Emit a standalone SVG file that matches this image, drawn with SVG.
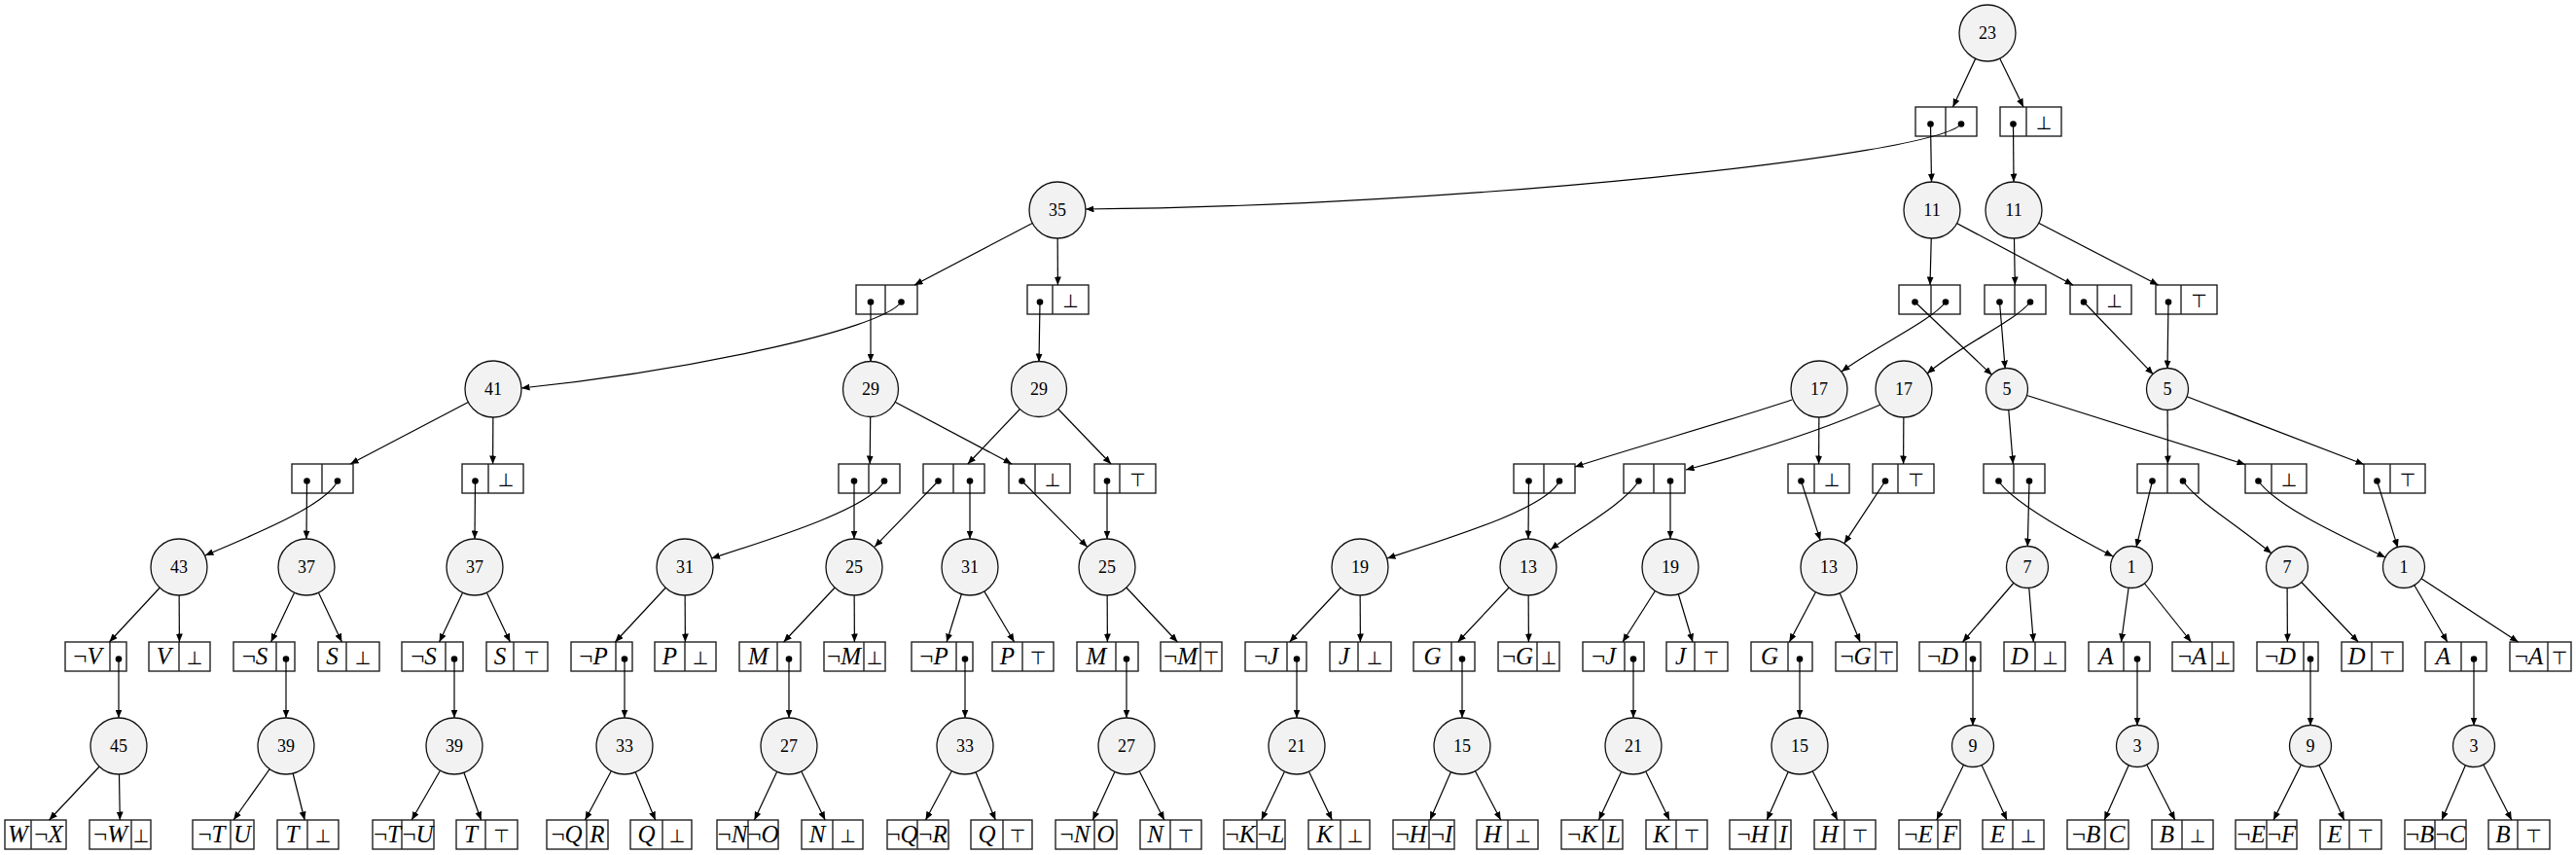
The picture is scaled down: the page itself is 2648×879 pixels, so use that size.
<svg xmlns="http://www.w3.org/2000/svg" width="2648" height="879" viewBox="0 0 2648 879">
<defs>
<style>
.rec rect{fill:#fff;stroke:#222;stroke-width:1.4}
.rec line{stroke:#222;stroke-width:1.4}
.lit{font-family:"Liberation Serif","DejaVu Serif",serif;font-size:25px;font-style:italic;text-anchor:middle;fill:#000}
.neg{font-style:normal}
.sym{font-family:"DejaVu Sans",sans-serif;font-size:19px;text-anchor:middle;fill:#000}
.dot{fill:#000}
.num circle{fill:#f2f2f2;stroke:#111;stroke-width:1.3}
.num text{font-family:"Liberation Serif","DejaVu Serif",serif;font-size:18px;text-anchor:middle;fill:#000}
#edges path{fill:none;stroke:#000;stroke-width:1.2;marker-end:url(#ah)}
</style>
<marker id="ah" markerUnits="userSpaceOnUse" markerWidth="9" markerHeight="7" refX="8.5" refY="3.5" orient="auto"><path d="M0,0 L8.5,3.5 L0,7 z" fill="#000"/></marker>
</defs>
<rect width="2648" height="879" fill="#fff"/>

<!-- record nodes -->
<g id="r1a" class="rec"><rect x="1969" y="110" width="63" height="30"/><line x1="2000" y1="110" x2="2000" y2="140"/><circle class="dot" cx="1984.5" cy="127.5" r="3.3"/><circle class="dot" cx="2016" cy="127.5" r="3.3"/></g>
<g id="r1b" class="rec"><rect x="2056" y="110" width="63" height="30"/><line x1="2083" y1="110" x2="2083" y2="140"/><circle class="dot" cx="2069.5" cy="127.5" r="3.3"/><text class="sym" x="2101" y="133">⊥</text></g>

<g id="r3a" class="rec"><rect x="880" y="293" width="63" height="30"/><line x1="910" y1="293" x2="910" y2="323"/><circle class="dot" cx="895" cy="310.5" r="3.3"/><circle class="dot" cx="926.5" cy="310.5" r="3.3"/></g>
<g id="r3b" class="rec"><rect x="1056" y="293" width="63" height="30"/><line x1="1082" y1="293" x2="1082" y2="323"/><circle class="dot" cx="1069" cy="310.5" r="3.3"/><text class="sym" x="1100.5" y="316">⊥</text></g>
<g id="r3c" class="rec"><rect x="1952" y="293" width="63" height="30"/><line x1="1985" y1="293" x2="1985" y2="323"/><circle class="dot" cx="1968.5" cy="310.5" r="3.3"/><circle class="dot" cx="2000" cy="310.5" r="3.3"/></g>
<g id="r3d" class="rec"><rect x="2040" y="293" width="63" height="30"/><line x1="2071" y1="293" x2="2071" y2="323"/><circle class="dot" cx="2055.5" cy="310.5" r="3.3"/><circle class="dot" cx="2087" cy="310.5" r="3.3"/></g>
<g id="r3e" class="rec"><rect x="2128" y="293" width="63" height="30"/><line x1="2156" y1="293" x2="2156" y2="323"/><circle class="dot" cx="2142" cy="310.5" r="3.3"/><text class="sym" x="2173.5" y="316">⊥</text></g>
<g id="r3f" class="rec"><rect x="2216" y="293" width="63" height="30"/><line x1="2242" y1="293" x2="2242" y2="323"/><circle class="dot" cx="2229" cy="310.5" r="3.3"/><text class="sym" x="2260.5" y="316">⊤</text></g>

<g id="r5a" class="rec"><rect x="300" y="477" width="63" height="30"/><line x1="331" y1="477" x2="331" y2="507"/><circle class="dot" cx="315.5" cy="494.5" r="3.3"/><circle class="dot" cx="347" cy="494.5" r="3.3"/></g>
<g id="r5b" class="rec"><rect x="475" y="477" width="63" height="30"/><line x1="502" y1="477" x2="502" y2="507"/><circle class="dot" cx="488.5" cy="494.5" r="3.3"/><text class="sym" x="520" y="500">⊥</text></g>
<g id="r5c" class="rec"><rect x="862" y="477" width="63" height="30"/><line x1="893" y1="477" x2="893" y2="507"/><circle class="dot" cx="878" cy="494.5" r="3.3"/><circle class="dot" cx="909" cy="494.5" r="3.3"/></g>
<g id="r5d" class="rec"><rect x="949" y="477" width="63" height="30"/><line x1="980" y1="477" x2="980" y2="507"/><circle class="dot" cx="964.5" cy="494.5" r="3.3"/><circle class="dot" cx="997" cy="494.5" r="3.3"/></g>
<g id="r5e" class="rec"><rect x="1037" y="477" width="63" height="30"/><line x1="1064" y1="477" x2="1064" y2="507"/><circle class="dot" cx="1050.5" cy="494.5" r="3.3"/><text class="sym" x="1082" y="500">⊥</text></g>
<g id="r5f" class="rec"><rect x="1125" y="477" width="63" height="30"/><line x1="1151" y1="477" x2="1151" y2="507"/><circle class="dot" cx="1138" cy="494.5" r="3.3"/><text class="sym" x="1169.5" y="500">⊤</text></g>
<g id="r5g" class="rec"><rect x="1556" y="477" width="63" height="30"/><line x1="1587" y1="477" x2="1587" y2="507"/><circle class="dot" cx="1571.5" cy="494.5" r="3.3"/><circle class="dot" cx="1603" cy="494.5" r="3.3"/></g>
<g id="r5h" class="rec"><rect x="1669" y="477" width="63" height="30"/><line x1="1700" y1="477" x2="1700" y2="507"/><circle class="dot" cx="1684.5" cy="494.5" r="3.3"/><circle class="dot" cx="1717" cy="494.5" r="3.3"/></g>
<g id="r5i" class="rec"><rect x="1838" y="477" width="63" height="30"/><line x1="1865" y1="477" x2="1865" y2="507"/><circle class="dot" cx="1851.5" cy="494.5" r="3.3"/><text class="sym" x="1883" y="500">⊥</text></g>
<g id="r5j" class="rec"><rect x="1925" y="477" width="63" height="30"/><line x1="1951" y1="477" x2="1951" y2="507"/><circle class="dot" cx="1938" cy="494.5" r="3.3"/><text class="sym" x="1969.5" y="500">⊤</text></g>
<g id="r5k" class="rec"><rect x="2039" y="477" width="63" height="30"/><line x1="2070" y1="477" x2="2070" y2="507"/><circle class="dot" cx="2054.5" cy="494.5" r="3.3"/><circle class="dot" cx="2086" cy="494.5" r="3.3"/></g>
<g id="r5l" class="rec"><rect x="2197" y="477" width="63" height="30"/><line x1="2228" y1="477" x2="2228" y2="507"/><circle class="dot" cx="2212.5" cy="494.5" r="3.3"/><circle class="dot" cx="2244" cy="494.5" r="3.3"/></g>
<g id="r5m" class="rec"><rect x="2308" y="477" width="63" height="30"/><line x1="2335" y1="477" x2="2335" y2="507"/><circle class="dot" cx="2321.5" cy="494.5" r="3.3"/><text class="sym" x="2353" y="500">⊥</text></g>
<g id="r5n" class="rec"><rect x="2430" y="477" width="63" height="30"/><line x1="2457" y1="477" x2="2457" y2="507"/><circle class="dot" cx="2443.5" cy="494.5" r="3.3"/><text class="sym" x="2475" y="500">⊤</text></g>

<g id="r7_1" class="rec"><rect x="67" y="660" width="63" height="30"/><line x1="113" y1="660" x2="113" y2="690"/><text class="lit" x="90" y="683"><tspan class="neg">¬</tspan>V</text><circle class="dot" cx="122" cy="677.5" r="3.3"/></g>
<g id="r7_2" class="rec"><rect x="153" y="660" width="63" height="30"/><line x1="184" y1="660" x2="184" y2="690"/><text class="lit" x="168.5" y="683">V</text><text class="sym" x="200" y="683">⊥</text></g>
<g id="r7_3" class="rec"><rect x="240" y="660" width="63" height="30"/><line x1="284" y1="660" x2="284" y2="690"/><text class="lit" x="262" y="683"><tspan class="neg">¬</tspan>S</text><circle class="dot" cx="294" cy="677.5" r="3.3"/></g>
<g id="r7_4" class="rec"><rect x="327" y="660" width="63" height="30"/><line x1="356" y1="660" x2="356" y2="690"/><text class="lit" x="341.5" y="683">S</text><text class="sym" x="373" y="683">⊥</text></g>
<g id="r7_5" class="rec"><rect x="413" y="660" width="63" height="30"/><line x1="458" y1="660" x2="458" y2="690"/><text class="lit" x="435.5" y="683"><tspan class="neg">¬</tspan>S</text><circle class="dot" cx="467" cy="677.5" r="3.3"/></g>
<g id="r7_6" class="rec"><rect x="500" y="660" width="63" height="30"/><line x1="528" y1="660" x2="528" y2="690"/><text class="lit" x="514" y="683">S</text><text class="sym" x="546.5" y="683">⊤</text></g>
<g id="r7_7" class="rec"><rect x="587" y="660" width="63" height="30"/><line x1="633" y1="660" x2="633" y2="690"/><text class="lit" x="610" y="683"><tspan class="neg">¬</tspan>P</text><circle class="dot" cx="642" cy="677.5" r="3.3"/></g>
<g id="r7_8" class="rec"><rect x="673" y="660" width="63" height="30"/><line x1="704" y1="660" x2="704" y2="690"/><text class="lit" x="688.5" y="683">P</text><text class="sym" x="720" y="683">⊥</text></g>
<g id="r7_9" class="rec"><rect x="760" y="660" width="63" height="30"/><line x1="799" y1="660" x2="799" y2="690"/><text class="lit" x="779.5" y="683">M</text><circle class="dot" cx="811" cy="677.5" r="3.3"/></g>
<g id="r7_10" class="rec"><rect x="847" y="660" width="63" height="30"/><line x1="888" y1="660" x2="888" y2="690"/><text class="lit" x="867.5" y="683"><tspan class="neg">¬</tspan>M</text><text class="sym" x="899" y="683">⊥</text></g>
<g id="r7_11" class="rec"><rect x="937" y="660" width="63" height="30"/><line x1="983" y1="660" x2="983" y2="690"/><text class="lit" x="960" y="683"><tspan class="neg">¬</tspan>P</text><circle class="dot" cx="992" cy="677.5" r="3.3"/></g>
<g id="r7_12" class="rec"><rect x="1020" y="660" width="63" height="30"/><line x1="1051" y1="660" x2="1051" y2="690"/><text class="lit" x="1035.5" y="683">P</text><text class="sym" x="1067" y="683">⊤</text></g>
<g id="r7_13" class="rec"><rect x="1107" y="660" width="63" height="30"/><line x1="1147" y1="660" x2="1147" y2="690"/><text class="lit" x="1127" y="683">M</text><circle class="dot" cx="1158" cy="677.5" r="3.3"/></g>
<g id="r7_14" class="rec"><rect x="1193" y="660" width="63" height="30"/><line x1="1234" y1="660" x2="1234" y2="690"/><text class="lit" x="1213.5" y="683"><tspan class="neg">¬</tspan>M</text><text class="sym" x="1245" y="683">⊤</text></g>
<g id="r7_15" class="rec"><rect x="1280" y="660" width="63" height="30"/><line x1="1323" y1="660" x2="1323" y2="690"/><text class="lit" x="1301.5" y="683"><tspan class="neg">¬</tspan>J</text><circle class="dot" cx="1333" cy="677.5" r="3.3"/></g>
<g id="r7_16" class="rec"><rect x="1367" y="660" width="63" height="30"/><line x1="1396" y1="660" x2="1396" y2="690"/><text class="lit" x="1381.5" y="683">J</text><text class="sym" x="1413" y="683">⊥</text></g>
<g id="r7_17" class="rec"><rect x="1453" y="660" width="63" height="30"/><line x1="1492" y1="660" x2="1492" y2="690"/><text class="lit" x="1472.5" y="683">G</text><circle class="dot" cx="1503" cy="677.5" r="3.3"/></g>
<g id="r7_18" class="rec"><rect x="1540" y="660" width="63" height="30"/><line x1="1580" y1="660" x2="1580" y2="690"/><text class="lit" x="1560" y="683"><tspan class="neg">¬</tspan>G</text><text class="sym" x="1592" y="683">⊥</text></g>
<g id="r7_19" class="rec"><rect x="1627" y="660" width="63" height="30"/><line x1="1670" y1="660" x2="1670" y2="690"/><text class="lit" x="1648.5" y="683"><tspan class="neg">¬</tspan>J</text><circle class="dot" cx="1679" cy="677.5" r="3.3"/></g>
<g id="r7_20" class="rec"><rect x="1713" y="660" width="63" height="30"/><line x1="1742" y1="660" x2="1742" y2="690"/><text class="lit" x="1727.5" y="683">J</text><text class="sym" x="1759" y="683">⊤</text></g>
<g id="r7_21" class="rec"><rect x="1800" y="660" width="63" height="30"/><line x1="1838" y1="660" x2="1838" y2="690"/><text class="lit" x="1819" y="683">G</text><circle class="dot" cx="1850" cy="677.5" r="3.3"/></g>
<g id="r7_22" class="rec"><rect x="1887" y="660" width="63" height="30"/><line x1="1928" y1="660" x2="1928" y2="690"/><text class="lit" x="1907.5" y="683"><tspan class="neg">¬</tspan>G</text><text class="sym" x="1939" y="683">⊤</text></g>
<g id="r7_23" class="rec"><rect x="1973" y="660" width="63" height="30"/><line x1="2021" y1="660" x2="2021" y2="690"/><text class="lit" x="1997" y="683"><tspan class="neg">¬</tspan>D</text><circle class="dot" cx="2028" cy="677.5" r="3.3"/></g>
<g id="r7_24" class="rec"><rect x="2060" y="660" width="63" height="30"/><line x1="2092" y1="660" x2="2092" y2="690"/><text class="lit" x="2076" y="683">D</text><text class="sym" x="2107.5" y="683">⊥</text></g>
<g id="r7_25" class="rec"><rect x="2147" y="660" width="63" height="30"/><line x1="2183" y1="660" x2="2183" y2="690"/><text class="lit" x="2165" y="683">A</text><circle class="dot" cx="2197" cy="677.5" r="3.3"/></g>
<g id="r7_26" class="rec"><rect x="2233" y="660" width="63" height="30"/><line x1="2274" y1="660" x2="2274" y2="690"/><text class="lit" x="2253.5" y="683"><tspan class="neg">¬</tspan>A</text><text class="sym" x="2285" y="683">⊥</text></g>
<g id="r7_27" class="rec"><rect x="2320" y="660" width="63" height="30"/><line x1="2368" y1="660" x2="2368" y2="690"/><text class="lit" x="2344" y="683"><tspan class="neg">¬</tspan>D</text><circle class="dot" cx="2375" cy="677.5" r="3.3"/></g>
<g id="r7_28" class="rec"><rect x="2407" y="660" width="63" height="30"/><line x1="2438" y1="660" x2="2438" y2="690"/><text class="lit" x="2422.5" y="683">D</text><text class="sym" x="2454" y="683">⊤</text></g>
<g id="r7_29" class="rec"><rect x="2493" y="660" width="63" height="30"/><line x1="2530" y1="660" x2="2530" y2="690"/><text class="lit" x="2511.5" y="683">A</text><circle class="dot" cx="2543" cy="677.5" r="3.3"/></g>
<g id="r7_30" class="rec"><rect x="2580" y="660" width="63" height="30"/><line x1="2619" y1="660" x2="2619" y2="690"/><text class="lit" x="2599.5" y="683"><tspan class="neg">¬</tspan>A</text><text class="sym" x="2631" y="683">⊤</text></g>

<g id="r9_1" class="rec"><rect x="5" y="843" width="63" height="30"/><line x1="32" y1="843" x2="32" y2="873"/><text class="lit" x="18.5" y="866">W</text><text class="lit" x="50" y="866"><tspan class="neg">¬</tspan>X</text></g>
<g id="r9_2" class="rec"><rect x="92" y="843" width="63" height="30"/><line x1="135" y1="843" x2="135" y2="873"/><text class="lit" x="113.5" y="866"><tspan class="neg">¬</tspan>W</text><text class="sym" x="145" y="866">⊥</text></g>
<g id="r9_3" class="rec"><rect x="198" y="843" width="63" height="30"/><line x1="237" y1="843" x2="237" y2="873"/><text class="lit" x="217.5" y="866"><tspan class="neg">¬</tspan>T</text><text class="lit" x="249" y="866">U</text></g>
<g id="r9_4" class="rec"><rect x="285" y="843" width="63" height="30"/><line x1="316" y1="843" x2="316" y2="873"/><text class="lit" x="300.5" y="866">T</text><text class="sym" x="332" y="866">⊥</text></g>
<g id="r9_5" class="rec"><rect x="383" y="843" width="63" height="30"/><line x1="413" y1="843" x2="413" y2="873"/><text class="lit" x="398" y="866"><tspan class="neg">¬</tspan>T</text><text class="lit" x="429.5" y="866"><tspan class="neg">¬</tspan>U</text></g>
<g id="r9_6" class="rec"><rect x="469" y="843" width="63" height="30"/><line x1="499" y1="843" x2="499" y2="873"/><text class="lit" x="484" y="866">T</text><text class="sym" x="515.5" y="866">⊤</text></g>
<g id="r9_7" class="rec"><rect x="562" y="843" width="63" height="30"/><line x1="603" y1="843" x2="603" y2="873"/><text class="lit" x="582.5" y="866"><tspan class="neg">¬</tspan>Q</text><text class="lit" x="614" y="866">R</text></g>
<g id="r9_8" class="rec"><rect x="648" y="843" width="63" height="30"/><line x1="681" y1="843" x2="681" y2="873"/><text class="lit" x="664.5" y="866">Q</text><text class="sym" x="696" y="866">⊥</text></g>
<g id="r9_9" class="rec"><rect x="737" y="843" width="63" height="30"/><line x1="769" y1="843" x2="769" y2="873"/><text class="lit" x="753" y="866"><tspan class="neg">¬</tspan>N</text><text class="lit" x="784.5" y="866"><tspan class="neg">¬</tspan>O</text></g>
<g id="r9_10" class="rec"><rect x="824" y="843" width="63" height="30"/><line x1="856" y1="843" x2="856" y2="873"/><text class="lit" x="840" y="866">N</text><text class="sym" x="871.5" y="866">⊥</text></g>
<g id="r9_11" class="rec"><rect x="912" y="843" width="63" height="30"/><line x1="943" y1="843" x2="943" y2="873"/><text class="lit" x="927.5" y="866"><tspan class="neg">¬</tspan>Q</text><text class="lit" x="959" y="866"><tspan class="neg">¬</tspan>R</text></g>
<g id="r9_12" class="rec"><rect x="998" y="843" width="63" height="30"/><line x1="1031" y1="843" x2="1031" y2="873"/><text class="lit" x="1014.5" y="866">Q</text><text class="sym" x="1046" y="866">⊤</text></g>
<g id="r9_13" class="rec"><rect x="1085" y="843" width="63" height="30"/><line x1="1125" y1="843" x2="1125" y2="873"/><text class="lit" x="1105" y="866"><tspan class="neg">¬</tspan>N</text><text class="lit" x="1136.5" y="866">O</text></g>
<g id="r9_14" class="rec"><rect x="1172" y="843" width="63" height="30"/><line x1="1203" y1="843" x2="1203" y2="873"/><text class="lit" x="1187.5" y="866">N</text><text class="sym" x="1219" y="866">⊤</text></g>
<g id="r9_15" class="rec"><rect x="1258" y="843" width="63" height="30"/><line x1="1292" y1="843" x2="1292" y2="873"/><text class="lit" x="1275" y="866"><tspan class="neg">¬</tspan>K</text><text class="lit" x="1306.5" y="866"><tspan class="neg">¬</tspan>L</text></g>
<g id="r9_16" class="rec"><rect x="1345" y="843" width="63" height="30"/><line x1="1378" y1="843" x2="1378" y2="873"/><text class="lit" x="1361.5" y="866">K</text><text class="sym" x="1393" y="866">⊥</text></g>
<g id="r9_17" class="rec"><rect x="1432" y="843" width="63" height="30"/><line x1="1469" y1="843" x2="1469" y2="873"/><text class="lit" x="1450.5" y="866"><tspan class="neg">¬</tspan>H</text><text class="lit" x="1482" y="866"><tspan class="neg">¬</tspan>I</text></g>
<g id="r9_18" class="rec"><rect x="1518" y="843" width="63" height="30"/><line x1="1550" y1="843" x2="1550" y2="873"/><text class="lit" x="1534" y="866">H</text><text class="sym" x="1565.5" y="866">⊥</text></g>
<g id="r9_19" class="rec"><rect x="1605" y="843" width="63" height="30"/><line x1="1648" y1="843" x2="1648" y2="873"/><text class="lit" x="1626.5" y="866"><tspan class="neg">¬</tspan>K</text><text class="lit" x="1659" y="866">L</text></g>
<g id="r9_20" class="rec"><rect x="1692" y="843" width="63" height="30"/><line x1="1723" y1="843" x2="1723" y2="873"/><text class="lit" x="1707.5" y="866">K</text><text class="sym" x="1739" y="866">⊤</text></g>
<g id="r9_21" class="rec"><rect x="1778" y="843" width="63" height="30"/><line x1="1825" y1="843" x2="1825" y2="873"/><text class="lit" x="1801.5" y="866"><tspan class="neg">¬</tspan>H</text><text class="lit" x="1833" y="866">I</text></g>
<g id="r9_22" class="rec"><rect x="1865" y="843" width="63" height="30"/><line x1="1896" y1="843" x2="1896" y2="873"/><text class="lit" x="1880.5" y="866">H</text><text class="sym" x="1912" y="866">⊤</text></g>
<g id="r9_23" class="rec"><rect x="1952" y="843" width="63" height="30"/><line x1="1992" y1="843" x2="1992" y2="873"/><text class="lit" x="1972" y="866"><tspan class="neg">¬</tspan>E</text><text class="lit" x="2004.5" y="866">F</text></g>
<g id="r9_24" class="rec"><rect x="2038" y="843" width="63" height="30"/><line x1="2069" y1="843" x2="2069" y2="873"/><text class="lit" x="2053.5" y="866">E</text><text class="sym" x="2085" y="866">⊥</text></g>
<g id="r9_25" class="rec"><rect x="2125" y="843" width="63" height="30"/><line x1="2164" y1="843" x2="2164" y2="873"/><text class="lit" x="2144.5" y="866"><tspan class="neg">¬</tspan>B</text><text class="lit" x="2176" y="866">C</text></g>
<g id="r9_26" class="rec"><rect x="2212" y="843" width="63" height="30"/><line x1="2243" y1="843" x2="2243" y2="873"/><text class="lit" x="2227.5" y="866">B</text><text class="sym" x="2259" y="866">⊥</text></g>
<g id="r9_27" class="rec"><rect x="2298" y="843" width="63" height="30"/><line x1="2330" y1="843" x2="2330" y2="873"/><text class="lit" x="2314" y="866"><tspan class="neg">¬</tspan>E</text><text class="lit" x="2345.5" y="866"><tspan class="neg">¬</tspan>F</text></g>
<g id="r9_28" class="rec"><rect x="2385" y="843" width="63" height="30"/><line x1="2415" y1="843" x2="2415" y2="873"/><text class="lit" x="2400" y="866">E</text><text class="sym" x="2431.5" y="866">⊤</text></g>
<g id="r9_29" class="rec"><rect x="2472" y="843" width="63" height="30"/><line x1="2503" y1="843" x2="2503" y2="873"/><text class="lit" x="2487.5" y="866"><tspan class="neg">¬</tspan>B</text><text class="lit" x="2519" y="866"><tspan class="neg">¬</tspan>C</text></g>
<g id="r9_30" class="rec"><rect x="2558" y="843" width="63" height="30"/><line x1="2588" y1="843" x2="2588" y2="873"/><text class="lit" x="2573" y="866">B</text><text class="sym" x="2604.5" y="866">⊤</text></g>

<!-- connectors -->
<g id="edges">
<path d="M2043,34 L2007.5,110"/>
<path d="M2043,34 L2080,110"/>
<path d="M1984.5,127.5 L1985.5,187"/>
<path d="M2016,127.5 C1990,160 1500,212 1116,215"/>
<path d="M2069.5,127.5 L2070,187"/>
<path d="M1087,216 L940,293"/>
<path d="M1087,216 L1087.4,293"/>
<path d="M1986,216 L1984,293"/>
<path d="M1986,216 L2131,293"/>
<path d="M2070,216 L2071.3,293"/>
<path d="M2070,216 L2218.6,293"/>
<path d="M895,310.5 L895,372"/>
<path d="M926.5,310.5 C905,340 700,382 536,399"/>
<path d="M1069,310.5 L1068,372"/>
<path d="M1968.5,310.5 L2047.7,385.6"/>
<path d="M2000,310.5 C1985,330 1930,355 1893,382"/>
<path d="M2055.5,310.5 L2061.2,379.1"/>
<path d="M2087,310.5 C2072,330 2015,355 1981,384"/>
<path d="M2142,310.5 L2213.4,384.9"/>
<path d="M2229,310.5 L2228,379"/>
<path d="M507,400 L360.1,477"/>
<path d="M507,400 L506.6,477"/>
<path d="M895,400 L894.2,477"/>
<path d="M895,400 L1040.2,477"/>
<path d="M1068,400 L994.8,477"/>
<path d="M1068,400 L1142.1,477"/>
<path d="M1842,411 C1780,432 1680,460 1619,480"/>
<path d="M1870,400 L1869.6,477"/>
<path d="M1933,416 C1860,448 1790,468 1733,483"/>
<path d="M1957,400 L1956.6,477"/>
<path d="M2063,400 L2069.3,477"/>
<path d="M2063,400 L2308,477.5"/>
<path d="M2228,400 L2228.4,477"/>
<path d="M2228,400 L2430,477.5"/>
<path d="M315.5,494.5 L315,554"/>
<path d="M347,494.5 C335,520 260,550 211,571"/>
<path d="M488.5,494.5 L488,554"/>
<path d="M878,494.5 L878,554"/>
<path d="M909,494.5 C895,522 800,552 731.5,574"/>
<path d="M964.5,494.5 L899.1,562.1"/>
<path d="M997,494.5 L997,554"/>
<path d="M1050.5,494.5 L1117.7,562.3"/>
<path d="M1138,494.5 L1138,554"/>
<path d="M1571.5,494.5 L1571,554"/>
<path d="M1603,494.5 C1590,522 1500,550 1426,574"/>
<path d="M1684.5,494.5 C1670,518 1620,545 1594,565"/>
<path d="M1717,494.5 L1717,554"/>
<path d="M1851.5,494.5 L1871.2,555.4"/>
<path d="M1938,494.5 L1895.8,558.7"/>
<path d="M2054.5,494.5 C2068,515 2120,545 2172,572"/>
<path d="M2086,494.5 L2084.3,562"/>
<path d="M2212.5,494.5 L2196,562.6"/>
<path d="M2244,494.5 C2258,515 2300,540 2335,569"/>
<path d="M2321.5,494.5 C2340,520 2400,548 2452,573"/>
<path d="M2443.5,494.5 L2464.8,562.9"/>
<path d="M184,583 L112.4,660"/>
<path d="M184,583 L184.4,660"/>
<path d="M315,583 L278.6,660"/>
<path d="M315,583 L351.4,660"/>
<path d="M488,583 L451.6,660"/>
<path d="M488,583 L524.4,660"/>
<path d="M704,583 L632.4,660"/>
<path d="M704,583 L704.4,660"/>
<path d="M878,583 L805.6,660"/>
<path d="M878,583 L878.4,660"/>
<path d="M997,583 L973.1,660"/>
<path d="M997,583 L1042.6,660"/>
<path d="M1138,583 L1138.4,660"/>
<path d="M1138,583 L1210.4,660"/>
<path d="M1398,583 L1325.6,660"/>
<path d="M1398,583 L1398.4,660"/>
<path d="M1571,583 L1498.6,660"/>
<path d="M1571,583 L1571.4,660"/>
<path d="M1717,583 L1668,660"/>
<path d="M1717,583 L1740,660"/>
<path d="M1880,583 L1839.4,660"/>
<path d="M1880,583 L1912.2,660"/>
<path d="M2084,583 L2017.5,660"/>
<path d="M2084,583 L2090.3,660"/>
<path d="M2191,583 L2180.5,660"/>
<path d="M2191,583 L2252.5,660"/>
<path d="M2351,583 L2351.4,660"/>
<path d="M2351,583 L2424.2,660"/>
<path d="M2471,583 L2515.8,660"/>
<path d="M2471,583 L2588.6,660"/>
<path d="M122,677.5 L122,738"/>
<path d="M294,677.5 L294,738"/>
<path d="M467,677.5 L467,738"/>
<path d="M642,677.5 L642,738"/>
<path d="M811,677.5 L811,738"/>
<path d="M992,677.5 L992,738"/>
<path d="M1158,677.5 L1158,738"/>
<path d="M1333,677.5 L1333,738"/>
<path d="M1503,677.5 L1503,738"/>
<path d="M1679,677.5 L1679,738"/>
<path d="M1850,677.5 L1850,738"/>
<path d="M2028,677.5 L2028,746"/>
<path d="M2197,677.5 L2197,746"/>
<path d="M2375,677.5 L2375,746"/>
<path d="M2543,677.5 L2543,746"/>
<path d="M122,767 L50.6,843"/>
<path d="M122,767 L123.3,843"/>
<path d="M294,767 L240.1,843"/>
<path d="M294,767 L313.2,843"/>
<path d="M467,767 L423.2,843"/>
<path d="M467,767 L494.6,843"/>
<path d="M642,767 L601.5,843"/>
<path d="M642,767 L673.7,843"/>
<path d="M811,767 L775.5,843"/>
<path d="M811,767 L848.2,843"/>
<path d="M992,767 L951.5,843"/>
<path d="M992,767 L1023.3,843"/>
<path d="M1158,767 L1123.3,843"/>
<path d="M1158,767 L1196.8,843"/>
<path d="M1333,767 L1296.7,843"/>
<path d="M1333,767 L1369.3,843"/>
<path d="M1503,767 L1470,843"/>
<path d="M1503,767 L1542.7,843"/>
<path d="M1679,767 L1643.5,843"/>
<path d="M1679,767 L1716.1,843"/>
<path d="M1850,767 L1816.2,843"/>
<path d="M1850,767 L1888.8,843"/>
<path d="M2028,767 L1990.8,843"/>
<path d="M2028,767 L2063,843"/>
<path d="M2197,767 L2163.2,843"/>
<path d="M2197,767 L2235.8,843"/>
<path d="M2375,767 L2337,843"/>
<path d="M2375,767 L2409.7,843"/>
<path d="M2543,767 L2510,843"/>
<path d="M2543,767 L2581.8,843"/>
</g>

<!-- circle nodes -->
<g id="n23" class="num"><circle cx="2043" cy="34" r="29"/><text x="2043" y="40">23</text></g>
<g id="n35" class="num"><circle cx="1087" cy="216" r="29"/><text x="1087" y="222">35</text></g>
<g id="n11a" class="num"><circle cx="1986" cy="216" r="29"/><text x="1986" y="222">11</text></g>
<g id="n11b" class="num"><circle cx="2070" cy="216" r="29"/><text x="2070" y="222">11</text></g>
<g id="n41" class="num"><circle cx="507" cy="400" r="29"/><text x="507" y="406">41</text></g>
<g id="n29a" class="num"><circle cx="895" cy="400" r="28.5"/><text x="895" y="406">29</text></g>
<g id="n29b" class="num"><circle cx="1068" cy="400" r="28.5"/><text x="1068" y="406">29</text></g>
<g id="n17a" class="num"><circle cx="1870" cy="400" r="29"/><text x="1870" y="406">17</text></g>
<g id="n17b" class="num"><circle cx="1957" cy="400" r="29"/><text x="1957" y="406">17</text></g>
<g id="n5a" class="num"><circle cx="2063" cy="400" r="21.5"/><text x="2063" y="406">5</text></g>
<g id="n5b" class="num"><circle cx="2228" cy="400" r="21.5"/><text x="2228" y="406">5</text></g>
<g id="n43" class="num"><circle cx="184" cy="583" r="29"/><text x="184" y="589">43</text></g>
<g id="n37a" class="num"><circle cx="315" cy="583" r="29"/><text x="315" y="589">37</text></g>
<g id="n37b" class="num"><circle cx="488" cy="583" r="29"/><text x="488" y="589">37</text></g>
<g id="n31a" class="num"><circle cx="704" cy="583" r="29"/><text x="704" y="589">31</text></g>
<g id="n25a" class="num"><circle cx="878" cy="583" r="29"/><text x="878" y="589">25</text></g>
<g id="n31b" class="num"><circle cx="997" cy="583" r="29"/><text x="997" y="589">31</text></g>
<g id="n25b" class="num"><circle cx="1138" cy="583" r="29"/><text x="1138" y="589">25</text></g>
<g id="n19a" class="num"><circle cx="1398" cy="583" r="29"/><text x="1398" y="589">19</text></g>
<g id="n13a" class="num"><circle cx="1571" cy="583" r="29"/><text x="1571" y="589">13</text></g>
<g id="n19b" class="num"><circle cx="1717" cy="583" r="29"/><text x="1717" y="589">19</text></g>
<g id="n13b" class="num"><circle cx="1880" cy="583" r="29"/><text x="1880" y="589">13</text></g>
<g id="n7a" class="num"><circle cx="2084" cy="583" r="21.5"/><text x="2084" y="589">7</text></g>
<g id="n1a" class="num"><circle cx="2191" cy="583" r="21.5"/><text x="2191" y="589">1</text></g>
<g id="n7b" class="num"><circle cx="2351" cy="583" r="21.5"/><text x="2351" y="589">7</text></g>
<g id="n1b" class="num"><circle cx="2471" cy="583" r="21.5"/><text x="2471" y="589">1</text></g>
<g id="n45" class="num"><circle cx="122" cy="767" r="29"/><text x="122" y="773">45</text></g>
<g id="n39a" class="num"><circle cx="294" cy="767" r="29"/><text x="294" y="773">39</text></g>
<g id="n39b" class="num"><circle cx="467" cy="767" r="29"/><text x="467" y="773">39</text></g>
<g id="n33a" class="num"><circle cx="642" cy="767" r="29"/><text x="642" y="773">33</text></g>
<g id="n27a" class="num"><circle cx="811" cy="767" r="29"/><text x="811" y="773">27</text></g>
<g id="n33b" class="num"><circle cx="992" cy="767" r="29"/><text x="992" y="773">33</text></g>
<g id="n27b" class="num"><circle cx="1158" cy="767" r="29"/><text x="1158" y="773">27</text></g>
<g id="n21a" class="num"><circle cx="1333" cy="767" r="29"/><text x="1333" y="773">21</text></g>
<g id="n15a" class="num"><circle cx="1503" cy="767" r="29"/><text x="1503" y="773">15</text></g>
<g id="n21b" class="num"><circle cx="1679" cy="767" r="29"/><text x="1679" y="773">21</text></g>
<g id="n15b" class="num"><circle cx="1850" cy="767" r="29"/><text x="1850" y="773">15</text></g>
<g id="n9a" class="num"><circle cx="2028" cy="767" r="21.5"/><text x="2028" y="773">9</text></g>
<g id="n3a" class="num"><circle cx="2197" cy="767" r="21.5"/><text x="2197" y="773">3</text></g>
<g id="n9b" class="num"><circle cx="2375" cy="767" r="21.5"/><text x="2375" y="773">9</text></g>
<g id="n3b" class="num"><circle cx="2543" cy="767" r="21.5"/><text x="2543" y="773">3</text></g>
</svg>
